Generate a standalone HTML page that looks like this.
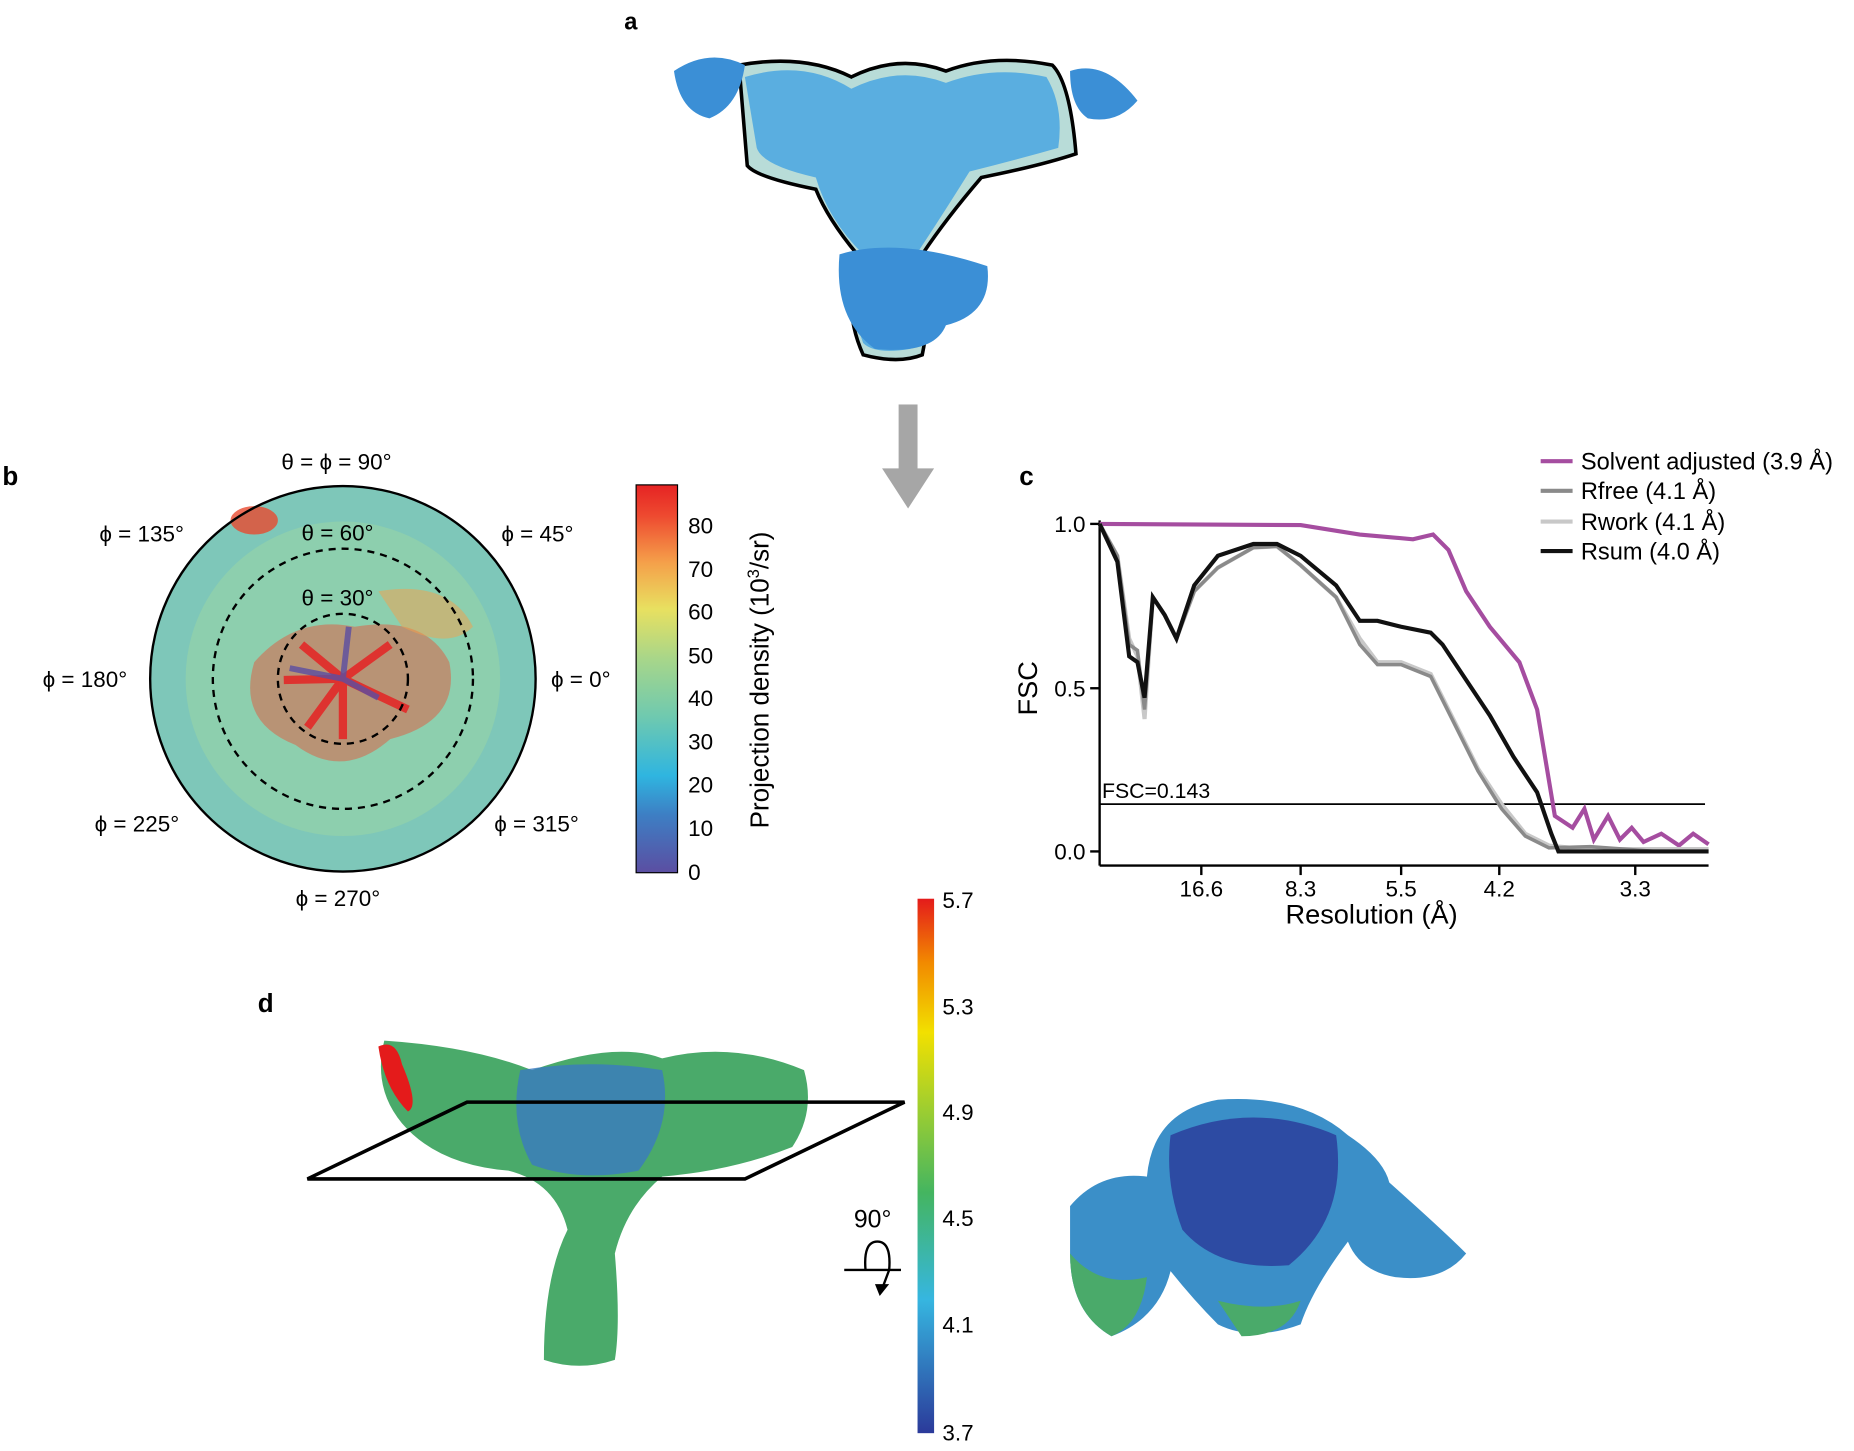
<!DOCTYPE html>
<html><head><meta charset="utf-8"><style>
html,body{margin:0;padding:0;background:#fff}
svg{display:block}
text{font-family:"Liberation Sans",sans-serif}
</style></head><body>
<svg width="1854" height="1451" viewBox="0 0 1568 1227" xmlns="http://www.w3.org/2000/svg">
<defs>
<linearGradient id="jet" x1="0" y1="1" x2="0" y2="0">
<stop offset="0" stop-color="#5b4ea2"/><stop offset="0.15" stop-color="#3d7fc4"/><stop offset="0.25" stop-color="#2fb5e0"/>
<stop offset="0.4" stop-color="#6ec9b0"/><stop offset="0.55" stop-color="#a7d68a"/><stop offset="0.68" stop-color="#e8e060"/>
<stop offset="0.8" stop-color="#f5a04a"/><stop offset="0.92" stop-color="#ee4a30"/><stop offset="1" stop-color="#e52323"/>
</linearGradient>
<linearGradient id="loc" x1="0" y1="1" x2="0" y2="0">
<stop offset="0" stop-color="#2b3a9a"/><stop offset="0.25" stop-color="#36b6e0"/><stop offset="0.45" stop-color="#44b560"/>
<stop offset="0.6" stop-color="#9acd32"/><stop offset="0.75" stop-color="#f2e000"/><stop offset="0.88" stop-color="#f28a00"/><stop offset="1" stop-color="#e41b1b"/>
</linearGradient>
</defs>
<!-- a -->
<text x="528" y="25" font-size="20" font-weight="bold">a</text>
<path d="M625,55 Q680,45 720,65 Q760,45 800,60 Q840,45 890,55 Q905,70 910,130 Q880,140 830,150 Q800,185 780,215 Q790,250 780,300 Q760,308 730,300 Q712,260 725,215 Q700,185 690,160 Q640,150 632,140 Z" fill="#b8dcd8" stroke="#000" stroke-width="3"/>
<path d="M630,65 Q680,50 720,75 Q760,55 800,70 Q840,55 885,65 Q900,90 895,125 Q860,135 820,145 Q795,185 775,215 Q790,260 770,295 Q740,300 730,290 Q715,250 730,215 Q700,185 690,150 Q645,140 640,125 Z" fill="#5aaee0"/>
<path d="M570,60 Q600,40 630,55 Q625,90 600,100 Q575,95 570,60 Z M905,60 Q935,50 962,85 Q945,105 920,100 Q905,90 905,60 Z M710,215 Q760,200 835,225 Q840,265 800,275 Q790,300 740,295 Q705,270 710,215 Z" fill="#3b8fd6"/>
<!-- arrow -->
<rect x="760" y="342" width="16" height="56" fill="#a6a6a6"/>
<polygon points="746,396 790,396 768,430" fill="#a6a6a6"/>
<!-- b -->
<text x="2" y="410" font-size="22" font-weight="bold">b</text>
<circle cx="290" cy="574" r="163" fill="#8dcfae"/>
<circle cx="290" cy="574" r="148" fill="none" stroke="#6cbcc8" stroke-width="30" opacity="0.45"/>
<path d="M215,560 Q250,520 300,530 Q360,520 380,560 Q390,610 330,625 Q290,660 250,630 Q200,610 215,560 Z" fill="#ee4a30" opacity="0.45"/>
<path d="M320,500 Q380,490 400,530 Q380,550 340,530 Z" fill="#f5a04a" opacity="0.5"/>
<ellipse cx="215" cy="440" rx="20" ry="12" fill="#e84a30" opacity="0.8"/>
<g stroke="#e52323" stroke-width="7" opacity="0.85">
<line x1="290" y1="574" x2="255" y2="545"/><line x1="290" y1="574" x2="330" y2="545"/><line x1="290" y1="574" x2="260" y2="615"/>
<line x1="290" y1="574" x2="345" y2="600"/><line x1="290" y1="574" x2="290" y2="625"/><line x1="290" y1="574" x2="240" y2="575"/></g>
<g stroke="#5b4ea2" stroke-width="5" opacity="0.8">
<line x1="290" y1="574" x2="245" y2="565"/><line x1="290" y1="574" x2="295" y2="530"/><line x1="290" y1="574" x2="320" y2="590"/></g>
<circle cx="290" cy="574" r="110" fill="none" stroke="#000" stroke-width="2" stroke-dasharray="6,5"/>
<circle cx="290" cy="574" r="55" fill="none" stroke="#000" stroke-width="2" stroke-dasharray="6,5"/>
<circle cx="290" cy="574" r="163" fill="none" stroke="#000" stroke-width="2"/>
<g font-size="19" font-family="Liberation Serif,serif">
<text x="238" y="397">θ = ϕ = 90°</text><text x="255" y="457">θ = 60°</text><text x="255" y="512">θ = 30°</text>
<text x="84" y="458">ϕ = 135°</text><text x="424" y="458">ϕ = 45°</text>
<text x="36" y="581">ϕ = 180°</text><text x="466" y="581">ϕ = 0°</text>
<text x="80" y="703">ϕ = 225°</text><text x="418" y="703">ϕ = 315°</text>
<text x="250" y="766">ϕ = 270°</text></g>
<rect x="538" y="410" width="35" height="328" fill="url(#jet)" stroke="#000" stroke-width="1"/>
<g font-size="19"><text x="582" y="451">80</text><text x="582" y="488">70</text><text x="582" y="524">60</text><text x="582" y="561">50</text><text x="582" y="597">40</text><text x="582" y="634">30</text><text x="582" y="670">20</text><text x="582" y="707">10</text><text x="582" y="744">0</text></g>
<text transform="translate(650,575) rotate(-90)" text-anchor="middle" font-size="22">Projection density (10<tspan dy="-8" font-size="14">3</tspan><tspan dy="8">/sr)</tspan></text>
<!-- c -->
<text x="862" y="410" font-size="22" font-weight="bold">c</text>
<g stroke="#000" stroke-width="2" fill="none">
<line x1="930" y1="440" x2="930" y2="732"/><line x1="930" y1="732" x2="1445" y2="732"/>
<line x1="922" y1="443" x2="930" y2="443"/><line x1="922" y1="582" x2="930" y2="582"/><line x1="922" y1="720" x2="930" y2="720"/>
<line x1="1016" y1="732" x2="1016" y2="740"/><line x1="1100" y1="732" x2="1100" y2="740"/><line x1="1185" y1="732" x2="1185" y2="740"/><line x1="1268" y1="732" x2="1268" y2="740"/><line x1="1383" y1="732" x2="1383" y2="740"/>
<line x1="930" y1="680" x2="1442" y2="680" stroke-width="1.5"/></g>
<g font-size="19"><text x="918" y="450" text-anchor="end">1.0</text><text x="918" y="589" text-anchor="end">0.5</text><text x="918" y="727" text-anchor="end">0.0</text>
<text x="1016" y="758" text-anchor="middle">16.6</text><text x="1100" y="758" text-anchor="middle">8.3</text><text x="1185" y="758" text-anchor="middle">5.5</text><text x="1268" y="758" text-anchor="middle">4.2</text><text x="1383" y="758" text-anchor="middle">3.3</text>
<text x="932" y="675" font-size="18">FSC=0.143</text></g>
<text x="1160" y="781" font-size="23" text-anchor="middle">Resolution (Å)</text>
<text transform="translate(877,582) rotate(-90)" font-size="23" text-anchor="middle">FSC</text>
<g fill="none" stroke-width="3.5">
<polyline stroke="#a54da0" points="930,443 1100,444 1150,452 1195,456 1212,452 1225,465 1240,500 1260,530 1285,560 1300,600 1310,660 1315,690 1330,700 1340,684 1348,710 1360,690 1370,710 1380,700 1390,712 1405,705 1420,715 1432,705 1445,714"/>
<polyline stroke="#c8c8c8" points="930,443 945,470 955,540 962,555 968,608 975,505 985,520 995,540 1010,500 1030,480 1060,463 1080,462 1100,478 1130,505 1150,540 1165,560 1185,560 1210,570 1230,610 1250,650 1270,680 1290,705 1310,715 1340,718 1380,718 1445,718"/>
<polyline stroke="#8a8a8a" stroke-width="3" points="930,443 945,470 955,545 962,550 968,600 975,505 985,520 995,540 1010,500 1030,480 1060,463 1080,462 1100,478 1130,505 1150,545 1165,562 1185,562 1210,572 1230,612 1250,652 1270,684 1290,707 1310,717 1345,716 1400,720 1445,720"/>
<polyline stroke="#111" points="930,443 945,475 955,555 962,560 968,590 975,505 985,520 995,540 1010,495 1030,470 1060,460 1080,460 1100,470 1130,495 1150,525 1165,525 1185,530 1210,535 1220,545 1240,575 1260,605 1280,640 1300,670 1312,705 1318,720 1445,720"/>
</g>
<g font-size="20">
<line x1="1303" y1="390" x2="1330" y2="390" stroke="#a54da0" stroke-width="3.5"/><text x="1337" y="397">Solvent adjusted (3.9 Å)</text>
<line x1="1303" y1="415" x2="1330" y2="415" stroke="#8a8a8a" stroke-width="3.5"/><text x="1337" y="422">Rfree (4.1 Å)</text>
<line x1="1303" y1="441" x2="1330" y2="441" stroke="#c8c8c8" stroke-width="3.5"/><text x="1337" y="448">Rwork (4.1 Å)</text>
<line x1="1303" y1="466" x2="1330" y2="466" stroke="#111" stroke-width="3.5"/><text x="1337" y="473">Rsum (4.0 Å)</text></g>
<!-- d -->
<text x="218" y="856" font-size="22" font-weight="bold">d</text>
<path d="M325,880 Q400,885 450,905 Q520,880 560,895 Q620,880 680,905 Q690,940 670,970 Q620,990 560,995 Q530,1020 520,1060 Q525,1120 520,1150 Q490,1160 460,1150 Q460,1080 480,1040 Q470,1000 430,990 Q370,985 340,950 Q315,920 325,880 Z" fill="#4aaa6a"/>
<path d="M440,905 Q500,895 560,905 Q570,950 540,990 Q490,1000 450,985 Q430,950 440,905 Z" fill="#3a7ac0" opacity="0.8"/>
<path d="M320,885 Q335,878 340,900 Q355,935 345,940 Q325,920 320,885 Z" fill="#e41b1b"/>
<polygon points="260,997 630,997 765,932 395,932" fill="none" stroke="#000" stroke-width="3"/>
<rect x="776" y="760" width="14" height="452" fill="url(#loc)"/>
<g font-size="19"><text x="797" y="768">5.7</text><text x="797" y="858">5.3</text><text x="797" y="947">4.9</text><text x="797" y="1037">4.5</text><text x="797" y="1127">4.1</text><text x="797" y="1218">3.7</text></g>
<text x="738" y="1038" font-size="21" text-anchor="middle">90°</text>
<line x1="714" y1="1074" x2="762" y2="1074" stroke="#000" stroke-width="2"/>
<path d="M732,1074 Q730,1050 742,1050 Q754,1050 752,1074 L746,1090" fill="none" stroke="#000" stroke-width="2"/>
<polygon points="740,1086 752,1086 744,1096" fill="#000"/>
<path d="M905,1020 Q930,990 970,995 Q975,940 1030,930 Q1100,925 1140,960 Q1170,980 1175,1000 Q1220,1040 1240,1060 Q1220,1085 1180,1080 Q1150,1075 1140,1050 Q1110,1090 1100,1120 Q1060,1135 1030,1120 Q1010,1100 990,1075 Q980,1115 940,1130 Q905,1110 905,1060 Z" fill="#3b8fc8"/>
<path d="M990,960 Q1060,930 1130,960 Q1140,1030 1090,1070 Q1030,1075 1000,1040 Q985,1000 990,960 Z" fill="#2b3a9a" opacity="0.8"/>
<path d="M905,1060 Q930,1090 970,1080 Q965,1120 940,1130 Q905,1110 905,1060 Z M1030,1100 Q1070,1110 1100,1100 Q1090,1130 1050,1130 Z" fill="#4aaa6a"/>
</svg>
</body></html>
